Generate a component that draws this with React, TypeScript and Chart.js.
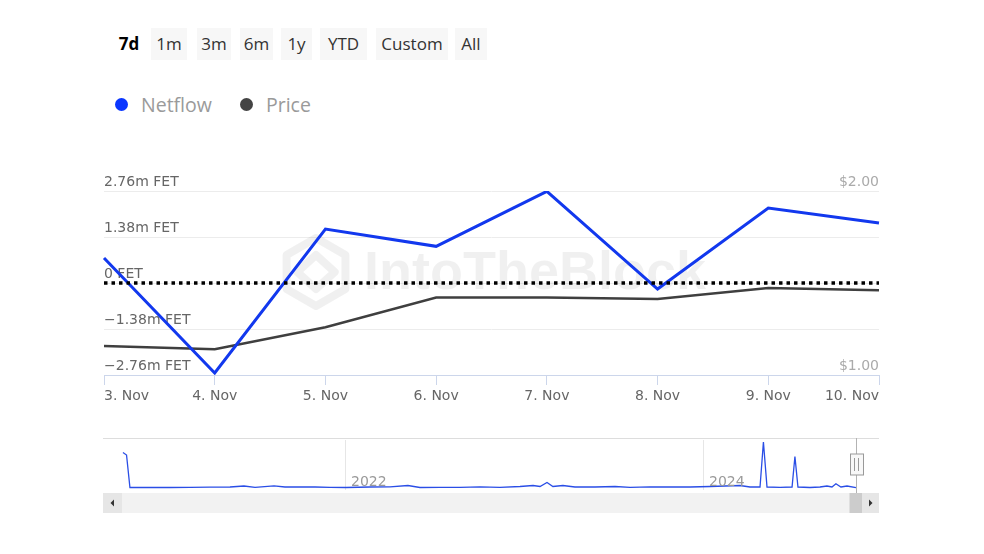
import React, { useEffect, useRef } from "react";
import { Chart, registerables } from "chart.js";

Chart.register(...registerables);

// ---------- data ----------
const categories = ["3. Nov", "4. Nov", "5. Nov", "6. Nov", "7. Nov", "8. Nov", "9. Nov", "10. Nov"];
const netflow = [0.75e6, -2.7e6, 1.62e6, 1.1e6, 2.75e6, -0.18e6, 2.25e6, 1.8e6];
const price = [1.158, 1.14, 1.26, 1.421, 1.421, 1.413, 1.473, 1.46];
const netflowTicks = [-2.76e6, -1.38e6, 0, 1.38e6, 2.76e6];
const netflowTickLabels = ["−2.76m FET", "−1.38m FET", "0 FET", "1.38m FET", "2.76m FET"];
const priceTicks = [1, 2];
const priceTickLabels = ["$1.00", "$2.00"];
const rangeButtons = ["7d", "1m", "3m", "6m", "1y", "YTD", "Custom", "All"];
const seriesNames = ["Netflow", "Price"];
const watermarkText = "IntoTheBlock";

// navigator (full history overview)
const navYears = [
  2020.754, 2020.774, 2020.793, 2020.905, 2021.017, 2021.128, 2021.24, 2021.352, 2021.43, 2021.492,
  2021.598, 2021.659, 2021.743, 2021.827, 2021.911, 2022.0, 2022.134, 2022.246, 2022.346, 2022.413,
  2022.525, 2022.637, 2022.749, 2022.86, 2022.972, 2023.045, 2023.084, 2023.123, 2023.156, 2023.212,
  2023.279, 2023.391, 2023.503, 2023.587, 2023.698, 2023.81, 2023.922, 2024.034, 2024.117, 2024.201,
  2024.257, 2024.313, 2024.332, 2024.352, 2024.425, 2024.492, 2024.508, 2024.525, 2024.592, 2024.648,
  2024.687, 2024.715, 2024.737, 2024.765, 2024.799, 2024.849,
];
const navValues = [
  37.5, 35, 2.5, 2.5, 2.5, 2.7, 2.8, 3, 4, 2.7,
  4.2, 3, 3.2, 3, 2.7, 2.5, 3, 3.2, 4.5, 2.5,
  2.7, 2.7, 3.2, 2.7, 3.5, 4.5, 3.5, 7.5, 3.5, 4.5,
  3, 3, 3.5, 2.7, 3.2, 3, 3, 3.5, 4, 4.5,
  3, 3, 48, 3, 2.7, 3, 33.5, 3, 2.5, 3,
  4, 3, 6.3, 3, 4, 2.3,
];
const navYearTicks = [2022, 2024];
const navYearLabels = ["2022", "2024"];

// ---------- styles ----------
const BLUE = "#1238ee";
const DARK = "#3f3f3f";
const AXIS_FONT = "'DejaVu Sans', sans-serif";
const UI_FONT = "'Open Sans', sans-serif";
const buttonLefts = [111, 151, 197, 240, 281, 320, 376, 455];
const buttonWidths = [36, 36, 34, 33, 31, 47, 72, 32];

const watermarkPlugin = {
  id: "watermark",
  beforeDatasetsDraw(chart: any) {
    const { ctx, chartArea } = chart;
    ctx.save();
    const cx = chartArea.left + 212;
    const cy = chartArea.top + 81;
    const r = 34;
    ctx.strokeStyle = "rgba(0,0,0,0.06)";
    ctx.lineWidth = 8;
    ctx.lineJoin = "round";
    ctx.beginPath();
    for (let i = 0; i < 6; i++) {
      const a = Math.PI / 6 + (i * Math.PI) / 3;
      const px = cx + r * Math.cos(a);
      const py = cy + r * Math.sin(a);
      if (i === 0) ctx.moveTo(px, py);
      else ctx.lineTo(px, py);
    }
    ctx.closePath();
    ctx.stroke();
    ctx.beginPath();
    ctx.moveTo(cx - r * 0.55, cy);
    ctx.lineTo(cx, cy - r * 0.5);
    ctx.lineTo(cx + r * 0.55, cy);
    ctx.lineTo(cx, cy + r * 0.5);
    ctx.closePath();
    ctx.stroke();
    ctx.fillStyle = "rgba(0,0,0,0.06)";
    ctx.font = "bold 54px 'Liberation Sans', sans-serif";
    ctx.textBaseline = "middle";
    ctx.textAlign = "left";
    ctx.fillText(watermarkText, chartArea.left + 260, cy + 2);
    ctx.restore();
  },
};

const zeroLinePlugin = {
  id: "zeroLine",
  afterDatasetsDraw(chart: any) {
    const { ctx, chartArea, scales } = chart;
    const y = Math.round(scales.y.getPixelForValue(0));
    ctx.save();
    ctx.strokeStyle = "#000";
    ctx.lineWidth = 3.5;
    ctx.setLineDash([3.5, 4]);
    ctx.beginPath();
    ctx.moveTo(chartArea.left, y);
    ctx.lineTo(chartArea.right, y);
    ctx.stroke();
    ctx.restore();
  },
};

const navDecorPlugin = {
  id: "navDecor",
  afterDraw(chart: any) {
    const { ctx, chartArea: ca, scales } = chart;
    const xs = scales.x;
    ctx.save();
    ctx.strokeStyle = "#dddddd";
    ctx.lineWidth = 1;
    ctx.beginPath();
    ctx.moveTo(ca.left, ca.top - 1.5);
    ctx.lineTo(ca.right, ca.top - 1.5);
    ctx.stroke();
    ctx.fillStyle = "#9a9a9a";
    ctx.font = `14px ${AXIS_FONT}`;
    ctx.textBaseline = "middle";
    ctx.textAlign = "left";
    navYearTicks.forEach((v, i) => {
      const px = xs.getPixelForValue(v);
      ctx.fillText(navYearLabels[i], px + 5, ca.bottom - 8);
    });
    const sTop = ca.bottom + 3;
    const sH = 20;
    ctx.fillStyle = "#f2f2f2";
    ctx.fillRect(ca.left, sTop, ca.right - ca.left, sH);
    const handleX = Math.round(xs.getPixelForValue(navYears[navYears.length - 1])) + 0.5;
    ctx.fillStyle = "#cccccc";
    ctx.fillRect(handleX - 7, sTop, ca.right - 17 - (handleX - 7), sH);
    ctx.fillStyle = "#e6e6e6";
    ctx.fillRect(ca.left, sTop, 19, sH);
    ctx.fillRect(ca.right - 17, sTop, 17, sH);
    ctx.fillStyle = "#333";
    const ly = sTop + sH / 2;
    ctx.beginPath();
    ctx.moveTo(ca.left + 7.5, ly);
    ctx.lineTo(ca.left + 11, ly - 3.5);
    ctx.lineTo(ca.left + 11, ly + 3.5);
    ctx.closePath();
    ctx.fill();
    ctx.beginPath();
    ctx.moveTo(ca.right - 6.5, ly);
    ctx.lineTo(ca.right - 10, ly - 3.5);
    ctx.lineTo(ca.right - 10, ly + 3.5);
    ctx.closePath();
    ctx.fill();
    ctx.strokeStyle = "#b3b3b3";
    ctx.lineWidth = 1;
    ctx.beginPath();
    ctx.moveTo(handleX, ca.top - 2);
    ctx.lineTo(handleX, sTop);
    ctx.stroke();
    ctx.fillStyle = "#f8f8f8";
    ctx.strokeStyle = "#999";
    ctx.fillRect(handleX - 6, ca.top + 14, 13, 21);
    ctx.strokeRect(handleX - 6, ca.top + 14, 13, 21);
    ctx.beginPath();
    ctx.moveTo(handleX - 2, ca.top + 18);
    ctx.lineTo(handleX - 2, ca.top + 31);
    ctx.moveTo(handleX + 2, ca.top + 18);
    ctx.lineTo(handleX + 2, ca.top + 31);
    ctx.stroke();
    ctx.restore();
  },
};

export default function App() {
  const mainRef = useRef<HTMLCanvasElement | null>(null);
  const navRef = useRef<HTMLCanvasElement | null>(null);

  useEffect(() => {
    const main = new Chart(mainRef.current as HTMLCanvasElement, {
      type: "line",
      data: {
        labels: categories,
        datasets: [
          {
            label: seriesNames[0],
            data: netflow,
            yAxisID: "y",
            borderColor: BLUE,
            backgroundColor: BLUE,
            borderWidth: 3,
            pointRadius: 0,
            tension: 0,
            order: 1,
          },
          {
            label: seriesNames[1],
            data: price,
            yAxisID: "y1",
            borderColor: DARK,
            backgroundColor: DARK,
            borderWidth: 2.5,
            pointRadius: 0,
            tension: 0,
            order: 2,
          },
        ],
      },
      options: {
        animation: false,
        responsive: false,
        maintainAspectRatio: false,
        devicePixelRatio: 1,
        layout: { padding: { left: 104, right: 105, top: 51, bottom: 0 } },
        plugins: { legend: { display: false }, tooltip: { enabled: false } },
        scales: {
          x: {
            type: "category",
            offset: false,
            grid: { drawOnChartArea: false, drawTicks: true, tickLength: 10, color: "#ccd6eb", lineWidth: 1 },
            border: { display: true, color: "#ccd6eb" },
            ticks: {
              align: "inner",
              padding: 3,
              color: "#666",
              font: { family: AXIS_FONT, size: 14 },
              maxRotation: 0,
              autoSkip: false,
            },
            afterFit: (s: any) => {
              s.height = 45;
            },
          },
          y: {
            position: "left",
            min: netflowTicks[0],
            max: netflowTicks[netflowTicks.length - 1],
            afterBuildTicks: (s: any) => {
              s.ticks = netflowTicks.map((v) => ({ value: v }));
            },
            grid: {
              drawTicks: false,
              color: (c: any) => (c.index === 0 ? "rgba(0,0,0,0)" : "#ececec"),
            },
            border: { display: false },
            ticks: {
              mirror: true,
              padding: 0,
              labelOffset: -9,
              color: "#666",
              font: { family: AXIS_FONT, size: 14 },
              callback: (v: any) => netflowTickLabels[netflowTicks.indexOf(Number(v))],
            },
            afterFit: (s: any) => {
              s.width = 0;
            },
          },
          y1: {
            position: "right",
            min: priceTicks[0],
            max: priceTicks[priceTicks.length - 1],
            afterBuildTicks: (s: any) => {
              s.ticks = priceTicks.map((v) => ({ value: v }));
            },
            grid: { display: false, drawTicks: false },
            border: { display: false },
            ticks: {
              mirror: true,
              padding: 0,
              labelOffset: -9,
              color: "#aaa",
              font: { family: AXIS_FONT, size: 14 },
              callback: (v: any) => priceTickLabels[priceTicks.indexOf(Number(v))],
            },
            afterFit: (s: any) => {
              s.width = 0;
            },
          },
        },
      } as any,
      plugins: [watermarkPlugin, zeroLinePlugin],
    });

    const nav = new Chart(navRef.current as HTMLCanvasElement, {
      type: "line",
      data: {
        datasets: [
          {
            data: navYears.map((x, i) => ({ x, y: navValues[i] })),
            borderColor: "#2a4ee6",
            borderWidth: 1.3,
            pointRadius: 0,
            tension: 0,
          },
        ],
      },
      options: {
        animation: false,
        responsive: false,
        maintainAspectRatio: false,
        devicePixelRatio: 1,
        layout: { padding: { left: 103, right: 105, top: 10, bottom: 40 } },
        plugins: { legend: { display: false }, tooltip: { enabled: false } },
        scales: {
          x: {
            type: "linear",
            min: 2020.6425,
            max: 2024.9777,
            afterBuildTicks: (s: any) => {
              s.ticks = navYearTicks.map((v) => ({ value: v }));
            },
            grid: { color: "#e6e6e6", drawTicks: false },
            border: { display: false },
            ticks: { display: false },
            afterFit: (s: any) => {
              s.height = 0;
            },
          },
          y: { display: false, min: 0, max: 50 },
        },
      } as any,
      plugins: [navDecorPlugin],
    });

    return () => {
      main.destroy();
      nav.destroy();
    };
  }, []);

  return (
    <div
      style={{
        position: "absolute",
        left: 0,
        top: 0,
        width: 984,
        height: 554,
        background: "#fff",
        overflow: "hidden",
      }}
    >
      {rangeButtons.map((b, i) => (
        <div
          key={b}
          style={{
            position: "absolute",
            left: buttonLefts[i],
            top: 28,
            width: buttonWidths[i],
            height: 32,
            lineHeight: "32px",
            textAlign: "center",
            fontFamily: UI_FONT,
            fontSize: 17,
            fontWeight: i === 0 ? 700 : 400,
            color: i === 0 ? "#000" : "#333",
            background: i === 0 ? "transparent" : "#f7f7f7",
          }}
        >
          {b}
        </div>
      ))}
      {seriesNames.map((n, i) => (
        <div
          key={n}
          style={{
            position: "absolute",
            left: i === 0 ? 115 : 240,
            top: 91,
            height: 26,
            display: "flex",
            alignItems: "center",
            fontFamily: UI_FONT,
            fontSize: 19.5,
            color: "#9a9a9a",
          }}
        >
          <span
            style={{
              display: "inline-block",
              width: 13,
              height: 13,
              borderRadius: "50%",
              background: i === 0 ? "#0a36ff" : "#444",
              marginRight: 13,
            }}
          />
          {n}
        </div>
      ))}
      <canvas
        ref={mainRef}
        width={984}
        height={280}
        style={{ position: "absolute", left: 0, top: 140, width: 984, height: 280, display: "block" }}
      />
      <canvas
        ref={navRef}
        width={984}
        height={100}
        style={{ position: "absolute", left: 0, top: 430, width: 984, height: 100, display: "block" }}
      />
    </div>
  );
}
